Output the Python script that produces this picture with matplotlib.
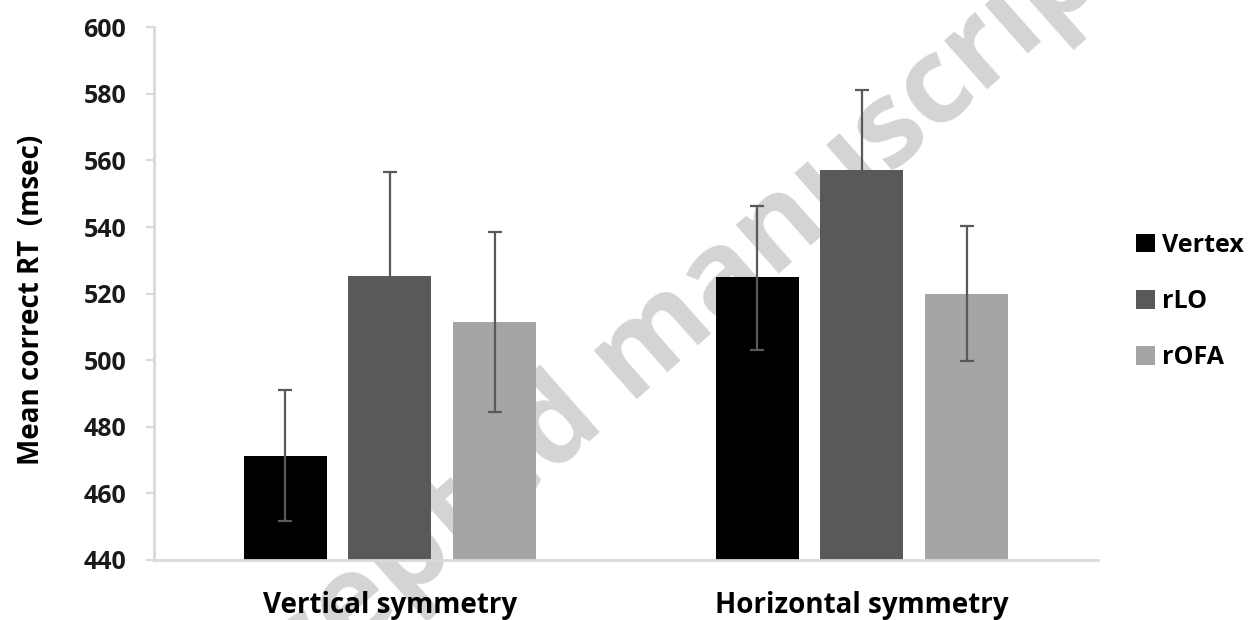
import numpy as np
import matplotlib
matplotlib.use('Agg')
import matplotlib.pyplot as plt

plt.rcParams['font.family'] = ['Open Sans', 'DejaVu Sans']
plt.rcParams['font.weight'] = 'bold'

# data
conditions = ['Vertical symmetry', 'Horizontal symmetry']
sites = ['Vertex', 'rLO', 'rOFA']
colors = ['#000000', '#595959', '#a5a5a5']
means = {
    'Vertex': [471.2, 525.0],
    'rLO': [525.2, 557.2],
    'rOFA': [511.5, 520.0],
}
err_low = {
    'Vertex': [451.6, 503.2],
    'rLO': [495.0, 533.0],
    'rOFA': [484.3, 499.8],
}
err_high = {
    'Vertex': [491.0, 546.3],
    'rLO': [556.4, 581.3],
    'rOFA': [538.6, 540.4],
}

fig = plt.figure(figsize=(12.49, 6.2), dpi=100)
ax = fig.add_axes([0.1233, 0.0968, 0.7557, 0.8592])
ax.patch.set_alpha(0)

# watermark behind everything
fig.text(0.52, 0.44, 'Accepted manuscript', rotation=41.5, fontsize=86,
         color='#d4d4d4', ha='center', va='center', rotation_mode='anchor',
         fontweight='bold', zorder=-1)

x = np.arange(len(conditions))
width = 0.176
offsets = [-0.222, 0.0, 0.222]
for site, col, off in zip(sites, colors, offsets):
    m = np.array(means[site])
    lo = m - np.array(err_low[site])
    hi = np.array(err_high[site]) - m
    ax.bar(x + off, m - 440, bottom=440, width=width, color=col,
           label=site, zorder=2)
    ax.errorbar(x + off, m, yerr=[lo, hi], fmt='none', ecolor='#595959',
                elinewidth=1.6, capsize=5, capthick=1.6, zorder=3)

ax.set_xlim(-0.5, 1.5)
ax.set_ylim(440, 600)
ax.set_yticks(np.arange(440, 601, 20))
ax.set_xticks(x)
ax.set_xticklabels(conditions, fontsize=20, fontweight='bold')
ax.tick_params(axis='x', length=0, pad=22)
ax.tick_params(axis='y', length=6, width=1.5, color='#d9d9d9',
               labelsize=18, pad=14, labelcolor='#1a1a1a')
for lab in ax.get_yticklabels():
    lab.set_fontweight('bold')

for s in ['top', 'right']:
    ax.spines[s].set_visible(False)
for s in ['left', 'bottom']:
    ax.spines[s].set_color('#d9d9d9')
    ax.spines[s].set_linewidth(2)

ax.set_ylabel('Mean correct RT  (msec)', fontsize=20, fontweight='bold')
ax.yaxis.set_label_coords(-0.114, 0.488)

ax.legend(loc='center left', bbox_to_anchor=(1.014, 0.485), frameon=False,
          fontsize=18, handlelength=0.75, handleheight=0.75,
          handletextpad=0.3, labelspacing=1.25, borderaxespad=0.6)

fig.savefig('out.png', dpi=100)
